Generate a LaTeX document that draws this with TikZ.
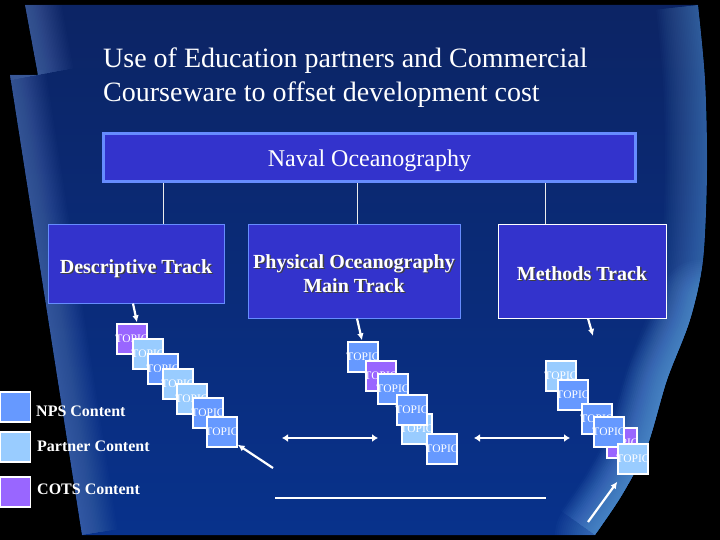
\documentclass[tikz,border=0pt]{standalone}
\usepackage{fontspec}
\setmainfont{Liberation Serif}
\usetikzlibrary{arrows.meta}
\definecolor{panelA}{RGB}{12,36,100}
\definecolor{panelB}{RGB}{8,50,140}
\definecolor{glowL}{RGB}{125,160,220}
\definecolor{glowR}{RGB}{115,180,240}
\definecolor{boxfill}{RGB}{51,51,204}
\definecolor{boxline}{RGB}{102,140,255}
\definecolor{nps}{RGB}{102,153,255}
\definecolor{partner}{RGB}{153,204,255}
\definecolor{cots}{RGB}{153,102,255}
\newcommand\shd[1]{\leavevmode\rlap{\kern1.3pt\raisebox{-1.3pt}{\textcolor{black!75}{#1}}}#1}
\newcommand\tp{\makebox[0pt]{TOPIC}}
\begin{document}
\begin{tikzpicture}[x=1pt,y=-1pt,
  topic/.style={draw=white, line width=1.2pt, minimum width=30pt, minimum height=30pt, inner sep=0pt, text=white, font=\fontsize{11.5}{12}\selectfont},
  legbox/.style={draw=white, line width=1.2pt, minimum width=30pt, minimum height=30pt, inner sep=0pt},
  legtext/.style={anchor=base west, inner sep=0pt, text=white, font=\fontsize{16}{18}\selectfont\bfseries},
  track/.style={fill=boxfill, draw=boxline, line width=1pt, inner sep=0pt},
  tracktext/.style={inner sep=0pt, text=white, align=center, font=\fontsize{20}{24}\selectfont\bfseries},
  titletext/.style={anchor=base west, inner sep=0pt, text=white, font=\fontsize{28}{30}\selectfont},
  arr/.style={draw=white, line width=2.2pt, -{Latex[length=7pt,width=6.5pt]}},
  darr/.style={draw=white, line width=2.5pt, {Latex[length=6pt,width=8pt]}-{Latex[length=6pt,width=8pt]}},
  conn/.style={draw=white!85!gray, line width=1pt}
]
\useasboundingbox (0,0) rectangle (720,540);
\fill[black] (0,0) rectangle (720,540);
% panel
\begin{scope}
\clip (25,5) -- plot[smooth] coordinates {(698,5) (705,80) (707,170) (703,260) (690,320) (667,380) (647,447) (622,495) (595,535)} -- (82,535) -- (10,75) -- (38,75) -- cycle;
\shade[top color=panelA, bottom color=panelB] (0,0) rectangle (720,540);
\foreach \i in {1,...,24}{
  \draw[glowL, line width=3*\i pt, opacity=0.025] (10,75) -- (82,535);
  \draw[glowL, line width=3*\i pt, opacity=0.025] (25,5) -- (38,75);
  \draw[glowR, line width=3.5*\i pt, opacity=0.025] plot[smooth] coordinates {(698,5) (705,80) (707,170) (703,260) (690,320) (667,380) (647,447) (622,495) (595,535)};
}
\foreach \i in {1,...,20}{
  \draw[glowR, line width=4*\i pt, opacity=0.03, line cap=round] plot[smooth] coordinates {(700,300) (690,330) (667,380) (647,447) (622,495) (595,535)};
}
\end{scope}
% title
\node[titletext] (t1) at (103,68) {Use of Education partners and Commercial};
\node[titletext] (t2) at (103,102) {Courseware to offset development cost};
% top box
\node[fill=boxfill, draw=boxline, line width=3pt, minimum width=532pt, minimum height=48pt, inner sep=0pt,
  label={[yshift=-3pt, inner sep=0pt, text=white, font=\fontsize{24}{26}\selectfont]center:Naval Oceanography}] (naval) at (369.5,157.5) {};
% tracks
\node[track, minimum width=176pt, minimum height=78pt,
  label={[tracktext, yshift=-5pt]center:\shd{Descriptive Track}}] (desc) at (136,264) {};
\node[track, minimum width=212pt, minimum height=93pt,
  label={[tracktext, yshift=-3pt]center:\shd{Physical Oceanography}\\\shd{Main Track}}] (phys) at (354,271.5) {};
\node[track, draw=white, minimum width=168pt, minimum height=93pt,
  label={[tracktext, yshift=-3pt]center:\shd{Methods Track}}] (meth) at (582,271.5) {};
\coordinate (v1) at (163,0);
\coordinate (v2) at (357.5,0);
\coordinate (v3) at (545,0);
\draw[conn] (naval.south -| v1) -- (desc.north -| v1);
\draw[conn] (naval.south -| v2) -- (phys.north -| v2);
\draw[conn] (naval.south -| v3) -- (meth.north -| v3);
% descriptive topics
\node[topic, fill=cots] (d1) at (132,339) {\tp};
\node[topic, fill=partner] (d2) at (148,354) {\tp};
\node[topic, fill=nps] (d3) at (163,369) {\tp};
\node[topic, fill=partner] (d4) at (178,384) {\tp};
\node[topic, fill=partner] (d5) at (192,399) {\tp};
\node[topic, fill=nps] (d6) at (208,413) {\tp};
\node[topic, fill=nps] (d7) at (222,432) {\tp};
% physical topics
\node[topic, fill=nps] (p1) at (363,357) {\tp};
\node[topic, fill=cots] (p2) at (381,376) {\tp};
\node[topic, fill=nps] (p3) at (393,389) {\tp};
\node[topic, fill=partner] (p5) at (417,429) {\tp};
\node[topic, fill=nps] (p4) at (412,410) {\tp};
\node[topic, fill=nps] (p6) at (442,449) {\tp};
% methods topics
\node[topic, fill=partner] (m1) at (561,376) {\tp};
\node[topic, fill=nps] (m2) at (573,395) {\tp};
\node[topic, fill=nps] (m3) at (597,419) {\tp};
\node[topic, fill=cots] (m5) at (622,443) {\tp};
\node[topic, fill=nps] (m4) at (609,432) {\tp};
\node[topic, fill=partner] (m6) at (633,459) {\tp};
% arrows
\draw[arr] ([xshift=-3pt]desc.south) -- ([xshift=5pt,yshift=1pt]d1.north);
\draw[arr] ([xshift=3pt]phys.south) -- ([xshift=-1pt,yshift=1pt]p1.north);
\coordinate (ma) at (593,336);
\draw[arr] ([xshift=6pt]meth.south) -- (ma);
\coordinate (da) at (273,468);
\draw[arr] (da) -- ([yshift=3pt]d7.south east);
\coordinate (mb) at (588,522);
\draw[arr] (mb) -- ([yshift=-7pt]m6.south west);
\coordinate (h1) at (282,438);
\coordinate (h2) at (378,438);
\coordinate (h3) at (474,438);
\coordinate (h4) at (570,438);
\draw[darr] (h1) -- (h2);
\draw[darr] (h3) -- (h4);
\coordinate (l1) at (275,498);
\coordinate (l2) at (546,498);
\draw[white, line width=2.5pt] (l1) -- (l2);
% legend
\node[legbox, fill=nps] (kn) at (15.5,407) {};
\node[legbox, fill=partner] (kp) at (15.5,447) {};
\node[legbox, fill=cots] (kc) at (15.5,492) {};
\node[legtext] (ln) at (36,416) {NPS Content};
\node[legtext] (lp) at (37,451) {Partner Content};
\node[legtext] (lc) at (37,494) {COTS Content};
\end{tikzpicture}
\end{document}
